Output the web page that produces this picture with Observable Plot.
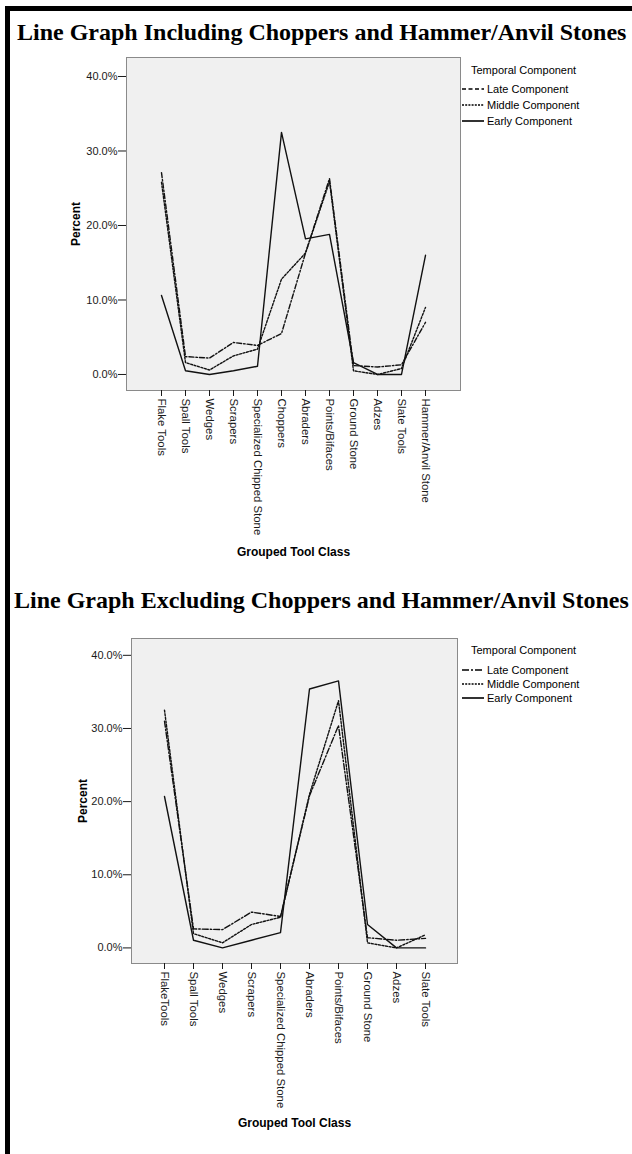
<!DOCTYPE html>
<html><head><meta charset="utf-8">
<script src="https://cdn.jsdelivr.net/npm/d3@7"></script>
<script src="https://cdn.jsdelivr.net/npm/@observablehq/plot@0.6"></script>
<style>
body{margin:0;background:#fff;}
#page{position:relative;width:632px;height:1154px;overflow:hidden;background:#fff;}
#barL{position:absolute;left:5px;top:6px;width:5px;height:1148px;background:#000;}
#barT{position:absolute;left:5px;top:6px;width:627px;height:5px;background:#000;}
.title{position:absolute;left:17px;font-family:"Liberation Serif","Times New Roman",serif;font-weight:bold;font-size:24px;white-space:nowrap;color:#000;line-height:1;}
.chart{position:absolute;left:0;}
.legend{position:absolute;left:460px;font-family:"Liberation Sans",Arial,sans-serif;font-size:11px;color:#000;}
.legend .row{position:absolute;left:2px;display:flex;align-items:center;height:13px;white-space:nowrap;}
.legend .row svg{margin-right:3px;}
.legend .head{position:absolute;left:11px;height:13px;line-height:13px;white-space:nowrap;}
</style>
</head><body>
<div id="page">
  <div id="barL"></div>
  <div id="barT"></div>
  <div class="title" id="t1" style="top:20px">Line Graph Including Choppers and Hammer/Anvil Stones</div>
  <div class="chart" id="c1" style="top:50px"></div>
  <div class="legend" id="l1" style="top:0px"></div>
  <div class="title" id="t2" style="top:588px;left:14px">Line Graph Excluding Choppers and Hammer/Anvil Stones</div>
  <div class="chart" id="c2" style="top:630px"></div>
  <div class="legend" id="l2" style="top:0px"></div>
</div>
<script>
// ---------- data ----------
const categoriesA = ["Flake Tools","Spall Tools","Wedges","Scrapers","Specialized Chipped Stone","Choppers","Abraders","Points/Bifaces","Ground Stone","Adzes","Slate Tools","Hammer/Anvil Stone"];
const lateA   = [27.1, 2.4, 2.2, 4.3, 3.9, 5.5, 16.3, 26.3, 1.2, 1.0, 1.3, 7.0];
const middleA = [25.8, 1.6, 0.6, 2.5, 3.4, 12.8, 16.3, 25.9, 0.5, 0.0, 0.8, 9.0];
const earlyA  = [10.6, 0.5, 0.0, 0.5, 1.1, 32.5, 18.2, 18.8, 1.6, 0.0, 0.0, 16.0];

const categoriesB = ["FlakeTools","Spall Tools","Wedges","Scrapers","Specialized Chipped Stone","Abraders","Points/Bifaces","Ground Stone","Adzes","Slate Tools"];
const lateB   = [31.0, 2.6, 2.5, 4.9, 4.3, 20.8, 30.4, 1.4, 1.05, 1.3];
const middleB = [32.5, 1.95, 0.7, 3.2, 4.2, 21.0, 33.8, 0.7, 0.0, 1.8];
const earlyB  = [20.7, 1.05, 0.0, 1.05, 2.1, 35.4, 36.5, 3.2, 0.0, 0.0];

const seriesNames = ["Late Component","Middle Component","Early Component"];
const yTicks = [0, 10, 20, 30, 40];
const legendTitle = "Temporal Component";
const xTitle = "Grouped Tool Class";
const yTitle = "Percent";

// ---------- chart builder ----------
function makeChart(cats, values, dashes, o) {
  const data = [];
  values.forEach((vals, si) => vals.forEach((v, i) => data.push({cat: cats[i], value: v, series: seriesNames[si]})));
  return Plot.plot({
    width: 632, height: o.height,
    marginLeft: o.ml, marginRight: o.mr, marginTop: o.mt, marginBottom: o.mb,
    style: {fontFamily: '"Liberation Sans", Arial, sans-serif', fontSize: "11px", color: "#1a1a1a", background: "transparent", overflow: "visible"},
    x: {type: "point", domain: cats, padding: o.padding},
    y: {domain: o.yDomain},
    marks: [
      Plot.frame({fill: "#f0f0f0", stroke: "#8a8a8a", strokeWidth: 1}),
      ...seriesNames.map((name, si) => Plot.lineY(data.filter(d => d.series === name), {
        x: "cat", y: "value", stroke: "#111", strokeWidth: 1.4, strokeDasharray: dashes[si]
      })),
      Plot.axisY({ticks: yTicks, tickFormat: d => d.toFixed(1) + "%", tickSize: 8, tickPadding: 1, label: null}),
      Plot.axisY({ticks: [], label: yTitle, labelAnchor: "center", labelArrow: "none", labelOffset: o.ylo, fontWeight: "bold", fontSize: 12, fill: "#000"}),
      Plot.axisX({tickRotate: 90, tickSize: 6, tickPadding: 2, fontSize: 11.4, label: null}),
      Plot.axisX({ticks: [], label: xTitle, labelAnchor: "center", labelArrow: "none", labelOffset: o.xlo, fontWeight: "bold", fontSize: 12, fill: "#000"})
    ]
  });
}

document.getElementById("c1").appendChild(makeChart(categoriesA, [lateA, middleA, earlyA], ["5,2,1.5,2", "2,1.6", null], {
  height: 520, ml: 126, mr: 172, mt: 7, mb: 180, padding: 1.2, yDomain: [-2.15, 42.55], xlo: 165, ylo: 55
}));
document.getElementById("c2").appendChild(makeChart(categoriesB, [lateB, middleB, earlyB], ["6,2,1.5,2", "2,1.6", null], {
  height: 520, ml: 131, mr: 175, mt: 8, mb: 187, padding: 1.06, yDomain: [-2.13, 42.3], xlo: 163, ylo: 53
}));

// ---------- legends ----------
function makeLegend(id, headY, rowYs, dashes) {
  const L = d3.select("#" + id);
  L.append("div").attr("class", "head").style("top", (headY - 6.5) + "px").text(legendTitle);
  seriesNames.forEach((name, i) => {
    const row = L.append("div").attr("class", "row").style("top", (rowYs[i] - 6.5) + "px");
    const s = row.append("svg").attr("width", 22).attr("height", 6);
    s.append("line").attr("x1", 0).attr("x2", 22).attr("y1", 3).attr("y2", 3)
      .attr("stroke", "#000").attr("stroke-width", 1.6).attr("stroke-dasharray", dashes[i]);
    row.append("span").text(name);
  });
}
makeLegend("l1", 70, [89, 105, 121], ["4,2.5", "2,1.2", null]);
makeLegend("l2", 650, [670, 684, 698], ["7,2,2,2", "2,1.2", null]);
</script>
</body></html>
